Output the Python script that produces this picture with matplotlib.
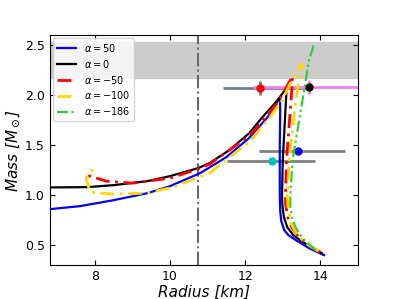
import matplotlib
matplotlib.use('Agg')
import matplotlib.pyplot as plt

# curvas masa-radio (R en km, M en masas solares)
r_a50 = [14.10, 13.70, 13.35, 13.15, 13.04, 12.96, 12.93, 12.92, 12.92, 12.92, 12.93, 12.93, 12.91, 12.85, 12.60, 12.10, 11.50, 10.80, 10.00, 9.40, 8.50, 7.60, 6.80]
m_a50 = [0.40, 0.47, 0.55, 0.60, 0.65, 0.74, 0.85, 1.00, 1.20, 1.50, 1.80, 1.95, 1.97, 1.93, 1.78, 1.57, 1.38, 1.22, 1.09, 1.02, 0.95, 0.89, 0.86]

r_a0 = [14.04, 13.75, 13.50, 13.28, 13.12, 13.03, 12.99, 12.98, 13.00, 13.05, 13.10, 13.08, 12.82, 12.46, 12.11, 11.58, 11.05, 10.75, 10.00, 9.40, 8.50, 7.80, 6.80]
m_a0 = [0.42, 0.48, 0.54, 0.60, 0.68, 0.78, 0.90, 1.00, 1.35, 1.70, 2.05, 2.06, 1.93, 1.78, 1.62, 1.45, 1.32, 1.27, 1.19, 1.14, 1.10, 1.08, 1.077]

r_am50 = [14.00, 13.72, 13.45, 13.25, 13.13, 13.08, 13.07, 13.10, 13.17, 13.24, 13.26, 13.10, 12.85, 12.50, 12.10, 11.50, 11.05, 10.74, 10.00, 9.00, 8.30, 7.69]
m_am50 = [0.43, 0.49, 0.57, 0.67, 0.78, 0.90, 1.00, 1.35, 1.70, 2.05, 2.19, 2.08, 1.92, 1.76, 1.59, 1.43, 1.31, 1.26, 1.17, 1.12, 1.14, 1.21]

r_am100 = [13.95, 13.65, 13.38, 13.22, 13.14, 13.12, 13.17, 13.35, 13.45, 13.51, 13.30, 12.99, 12.64, 12.11, 11.58, 11.05, 10.08, 9.37, 8.49, 7.87, 7.76, 8.03]
m_am100 = [0.44, 0.51, 0.60, 0.72, 0.86, 1.00, 1.35, 1.95, 2.20, 2.31, 2.20, 1.95, 1.77, 1.53, 1.38, 1.22, 1.08, 1.02, 1.01, 1.03, 1.17, 1.30]

r_am186 = [13.88, 13.55, 13.35, 13.24, 13.20, 13.20, 13.26, 13.48, 13.70, 13.84]
m_am186 = [0.45, 0.56, 0.67, 0.78, 0.90, 1.00, 1.35, 1.85, 2.35, 2.52]

# observaciones NICER (R, M, error inferior/superior en R)
obs_r = [12.39, 13.70, 13.40, 12.71]
obs_m = [2.072, 2.08, 1.44, 1.34]
obs_rerr_lo = [0.98, 1.50, 1.04, 1.19]
obs_rerr_hi = [1.30, 2.60, 1.26, 1.14]
obs_merr = [0.067, 0.07, 0.0, 0.0]
obs_color = ['red', 'black', 'blue', 'c']
obs_ecolor = ['slategray', 'violet', 'gray', 'gray']

fig, ax = plt.subplots(figsize=(3.99, 2.99), dpi=100)
fig.subplots_adjust(left=0.125, right=0.897, top=0.883, bottom=0.113)

ax.axhspan(2.17, 2.53, color='#cccccc', zorder=0)
ax.axvline(10.75, color='dimgray', linestyle='-.', lw=1.5, zorder=1)

for i in range(len(obs_r)):
    ax.errorbar(obs_r[i], obs_m[i], xerr=[[obs_rerr_lo[i]], [obs_rerr_hi[i]]],
                yerr=obs_merr[i], fmt='o', color=obs_color[i], ecolor=obs_ecolor[i],
                elinewidth=2, markersize=5, zorder=2)

ax.plot(r_a50, m_a50, color='blue', lw=1.6, label=r'$\alpha=50$', zorder=3)
ax.plot(r_a0, m_a0, color='black', lw=1.6, label=r'$\alpha=0$', zorder=3)
ax.plot(r_am50, m_am50, color='red', lw=2, linestyle=(0, (5, 2, 1, 2)), label=r'$\alpha=-50$', zorder=3)
ax.plot(r_am100, m_am100, color='gold', lw=2, linestyle=(0, (5, 2, 1, 2)), label=r'$\alpha=-100$', zorder=3)
ax.plot(r_am186, m_am186, color='limegreen', lw=1.6, linestyle=(0, (5, 1.5, 1, 1.5, 1, 1.5)), label=r'$\alpha=-186$', zorder=3)

ax.set_xlim(6.8, 15)
ax.set_ylim(0.3, 2.6)
ax.set_xticks([8, 10, 12, 14])
ax.set_yticks([0.5, 1.0, 1.5, 2.0, 2.5])
ax.tick_params(direction='in', top=True, right=True, labelsize=9)
ax.set_xlabel('Radius [km]', fontsize=11, fontstyle='italic', labelpad=1)
ax.set_ylabel(r'Mass [$M_\odot$]', fontsize=11, fontstyle='italic', labelpad=2)

ax.legend(loc='upper left', fontsize=7, handlelength=2.0, labelspacing=0.4,
          borderpad=0.4, handletextpad=0.8, borderaxespad=0.3)

plt.savefig('out.png', dpi=100)
